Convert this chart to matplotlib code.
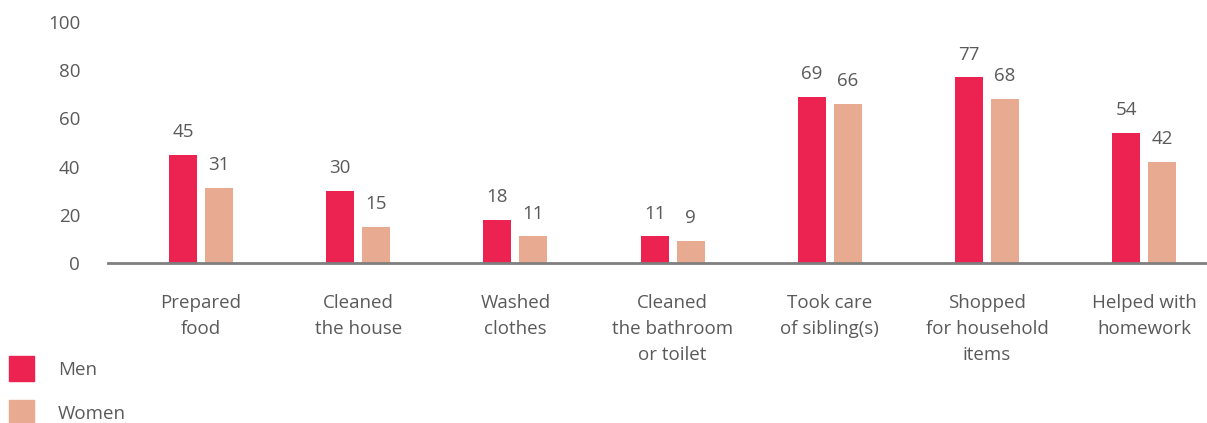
import matplotlib
matplotlib.use("Agg")
import matplotlib.pyplot as plt
from matplotlib.patches import Patch
import numpy as np

categories = [
    "Prepared\nfood",
    "Cleaned\nthe house",
    "Washed\nclothes",
    "Cleaned\nthe bathroom\nor toilet",
    "Took care\nof sibling(s)",
    "Shopped\nfor household\nitems",
    "Helped with\nhomework",
]
men = [45, 30, 18, 11, 69, 77, 54]
women = [31, 15, 11, 9, 66, 68, 42]
yticks = [0, 20, 40, 60, 80, 100]

MEN_COLOR = "#EC2350"
WOMEN_COLOR = "#E8AA90"
TEXT_COLOR = "#5A5A5A"
AXIS_COLOR = "#7F7F7F"

plt.rcParams["font.family"] = ["Open Sans", "DejaVu Sans"]

W, H = 1207, 423
fig = plt.figure(figsize=(W / 100, H / 100), dpi=100)
ax = fig.add_axes([108 / W, 160 / H, (W - 108) / W, 241 / H])

x = np.arange(len(categories))
bw = 0.178
off = 0.1145
b1 = ax.bar(x - off, men, bw, color=MEN_COLOR)
b2 = ax.bar(x + off, women, bw, color=WOMEN_COLOR)

for bars, vals in ((b1, men), (b2, women)):
    for rect, v in zip(bars, vals):
        ax.annotate(f"{v}", (rect.get_x() + rect.get_width() / 2, v),
                    xytext=(0, 10), textcoords="offset points",
                    ha="center", va="bottom", fontsize=13.5, color=TEXT_COLOR)

ax.set_xlim(-0.5916, 6.3995)
ax.set_ylim(0, 100)
ax.set_yticks(yticks)
ax.set_yticklabels([str(t) for t in yticks])
ax.set_xticks(x)
ax.set_xticklabels(categories, linespacing=1.58)
ax.tick_params(axis="both", length=0, labelsize=13.5, colors=TEXT_COLOR)
ax.tick_params(axis="y", pad=20)
ax.tick_params(axis="x", pad=22.5)
for t in ax.get_xticklabels():
    t.set_verticalalignment("top")

for s in ("top", "right", "left"):
    ax.spines[s].set_visible(False)
ax.spines["bottom"].set_color(AXIS_COLOR)
ax.spines["bottom"].set_linewidth(2)
ax.spines["bottom"].set_zorder(3)

handles = [Patch(color=MEN_COLOR), Patch(color=WOMEN_COLOR)]
fs = 13.5
fpx = fs / 0.72
fig.legend(handles, ["Men", "Women"], loc="upper left",
           bbox_to_anchor=(9 / W, 1 - 356 / H), frameon=False,
           fontsize=fs, labelcolor=TEXT_COLOR, borderpad=0, borderaxespad=0,
           handlelength=25 / fpx, handleheight=32 / fpx,
           handletextpad=24 / fpx, labelspacing=18.5 / fpx)

fig.savefig("out.png", dpi=100)
